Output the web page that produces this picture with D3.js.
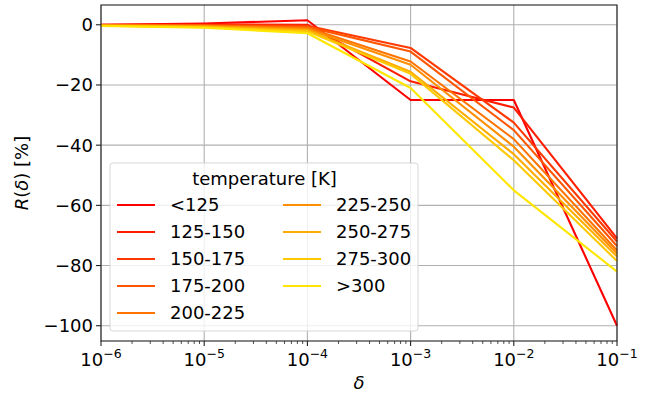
<!DOCTYPE html>
<html>
<head>
<meta charset="utf-8">
<script src="https://cdn.jsdelivr.net/npm/d3@7"></script>
<style>
  body { margin: 0; background: #fff; }
  svg text { font-family: "DejaVu Sans", sans-serif; fill: #000; }
</style>
</head>
<body>
<div id="graph"></div>
<script>
// delta values on the x axis
var deltas = [1e-6, 1e-5, 1e-4, 1e-3, 1e-2, 1e-1]

var labels = ['<125', '125-150', '150-175', '175-200', '200-225',
              '225-250', '250-275', '275-300', '>300']

// R(delta) in percent, one row per temperature class
var r_lt125   = [0.0,  0.4,  1.5,  -25.0, -25.0, -100.0]
var r_125_150 = [0.0,  0.1,  0.0,  -18.8, -27.5, -71.0]
var r_150_175 = [-0.1, -0.1, -0.3, -7.7,  -32.5, -72.0]
var r_175_200 = [-0.1, -0.2, -0.7, -8.9,  -35.0, -73.5]
var r_200_225 = [-0.2, -0.3, -1.0, -12.2, -38.0, -75.0]
var r_225_250 = [-0.2, -0.5, -1.4, -13.3, -40.5, -76.0]
var r_250_275 = [-0.3, -0.6, -1.8, -15.6, -43.0, -77.0]
var r_275_300 = [-0.3, -0.8, -2.2, -16.3, -45.0, -78.5]
var r_gt300   = [-0.4, -1.0, -2.8, -21.0, -55.0, -82.0]

var series = [r_lt125, r_125_150, r_150_175, r_175_200, r_200_225,
              r_225_250, r_250_275, r_275_300, r_gt300]

var yTicks = [0, -20, -40, -60, -80, -100]
var xTicks = [1e-6, 1e-5, 1e-4, 1e-3, 1e-2, 1e-1]

var W = 658, H = 396
var margin = {left: 101, right: 41, top: 5, bottom: 55}
var width = W - margin.left - margin.right
var height = H - margin.top - margin.bottom
var fs = '18px'

var svg = d3.select('#graph').append('svg')
  .attr('width', W).attr('height', H)
var g = svg.append('g').attr('transform', 'translate(' + margin.left + ',' + margin.top + ')')

var x = d3.scaleLog().domain([1e-6, 1e-1]).range([0, width])
var y = d3.scaleLinear().domain([-105.07, 6.57]).range([height, 0])

// autumn colormap: red -> yellow
function autumn(t){ return d3.rgb(255, Math.round(255 * t), 0).formatHex() }
var colors = series.map(function(d, i){ return autumn(i / 8 * 0.9) })

// grid
g.append('g').selectAll('line').data(xTicks).join('line')
  .attr('x1', d => x(d)).attr('x2', d => x(d))
  .attr('y1', 0).attr('y2', height)
  .attr('stroke', '#b0b0b0').attr('stroke-width', 1.1)
g.append('g').selectAll('line').data(yTicks).join('line')
  .attr('x1', 0).attr('x2', width)
  .attr('y1', d => y(d)).attr('y2', d => y(d))
  .attr('stroke', '#b0b0b0').attr('stroke-width', 1.1)

// lines
var line = d3.line().x((d, i) => x(deltas[i])).y(d => y(d))
g.append('g').selectAll('path').data(series).join('path')
  .attr('d', line)
  .attr('fill', 'none')
  .attr('stroke', (d, i) => colors[i])
  .attr('stroke-width', 2.1)
  .attr('stroke-linejoin', 'round')

// frame
g.append('rect').attr('width', width).attr('height', height)
  .attr('fill', 'none').attr('stroke', '#222').attr('stroke-width', 1.1)

// y axis
var yAx = g.append('g')
yAx.selectAll('line').data(yTicks).join('line')
  .attr('x1', -5).attr('x2', 0)
  .attr('y1', d => y(d)).attr('y2', d => y(d))
  .attr('stroke', '#222').attr('stroke-width', 1.1)
yAx.selectAll('text').data(yTicks).join('text')
  .attr('x', -8).attr('y', d => y(d)).attr('dy', '0.36em')
  .attr('text-anchor', 'end').style('font-size', fs)
  .text(d => d < 0 ? '\u2212' + Math.abs(d) : d)

// x axis major ticks
var xAx = g.append('g').attr('transform', 'translate(0,' + height + ')')
xAx.selectAll('line.major').data(xTicks).join('line')
  .attr('class', 'major')
  .attr('x1', d => x(d)).attr('x2', d => x(d))
  .attr('y1', 0).attr('y2', 5)
  .attr('stroke', '#222').attr('stroke-width', 1.1)
var minor = []
xTicks.slice(0, -1).forEach(function(t){
  for (var k = 2; k < 10; k++) minor.push(t * k)
})
xAx.selectAll('line.minor').data(minor).join('line')
  .attr('class', 'minor')
  .attr('x1', d => x(d)).attr('x2', d => x(d))
  .attr('y1', 0).attr('y2', 3)
  .attr('stroke', '#222').attr('stroke-width', 0.8)
var xt = xAx.selectAll('text').data(xTicks).join('text')
  .attr('x', d => x(d)).attr('y', 25)
  .attr('text-anchor', 'middle').style('font-size', fs)
xt.append('tspan').text('10')
xt.append('tspan').attr('dy', -8).style('font-size', '12.5px')
  .text(d => '\u2212' + Math.round(-Math.log10(d)))

// axis labels
svg.append('text')
  .attr('x', margin.left + width / 2).attr('y', 389)
  .attr('text-anchor', 'middle').style('font-size', fs)
  .style('font-style', 'italic').text('\u03b4')
var yl = svg.append('text')
  .attr('transform', 'translate(28,' + (margin.top + height / 2) + ') rotate(-90)')
  .attr('text-anchor', 'middle').style('font-size', fs)
yl.append('tspan').style('font-style', 'italic').text('R')
yl.append('tspan').text('(')
yl.append('tspan').style('font-style', 'italic').text('\u03b4')
yl.append('tspan').text(') [%]')

// legend
var leg = svg.append('g').attr('transform', 'translate(110,163)')
leg.append('rect').attr('width', 308).attr('height', 168)
  .attr('rx', 3).attr('fill', 'white').attr('fill-opacity', 0.8)
  .attr('stroke', '#d6d6d6').attr('stroke-width', 1)
leg.append('text').attr('x', 154.5).attr('y', 22)
  .attr('text-anchor', 'middle').style('font-size', fs)
  .text('temperature [K]')
var items = leg.selectAll('g.item').data(labels).join('g')
  .attr('class', 'item')
  .attr('transform', (d, i) => 'translate(' + (i < 5 ? 7 : 173) + ',' + (42 + (i % 5) * 27) + ')')
items.append('line').attr('x1', 0).attr('x2', 38)
  .attr('stroke', (d, i) => colors[i]).attr('stroke-width', 2.1)
items.append('text').attr('x', 53).attr('dy', '0.36em')
  .style('font-size', fs).text(d => d)
</script>
</body>
</html>
